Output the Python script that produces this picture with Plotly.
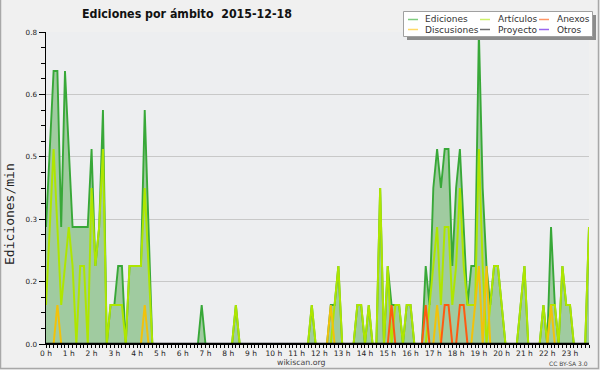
import plotly.graph_objects as go

# ---------------- data ----------------
TITLE = "Ediciones por ámbito\u00a0\u00a02015-12-18"
Y_TITLE = "Ediciones/min"
SOURCE = "wikiscan.org"
LICENSE = "CC BY-SA 3.0"

# 10-minute bins over the day (minutes since midnight)
MINUTES = list(range(0, 1440, 10))

HOUR_TICKS = [0, 60, 120, 180, 240, 300, 360, 420, 480, 540, 600, 660,
              720, 780, 840, 900, 960, 1020, 1080, 1140, 1200, 1260, 1320, 1380]
HOUR_LABELS = ["0 h", "1 h", "2 h", "3 h", "4 h", "5 h", "6 h", "7 h", "8 h", "9 h",
               "10 h", "11 h", "12 h", "13 h", "14 h", "15 h", "16 h", "17 h", "18 h",
               "19 h", "20 h", "21 h", "22 h", "23 h"]

Y_TICKS = [0, 0.16, 0.32, 0.48, 0.64, 0.8]
Y_LABELS = ["0.0", "0.2", "0.3", "0.5", "0.6", "0.8"]

EDICIONES = [
    0.3, 0.5, 0.7, 0.7, 0.3, 0.7, 0.5, 0.3, 0.3, 0.3, 0.3, 0.3,
    0.5, 0.2, 0.3, 0.6, 0, 0.1, 0.1, 0.2, 0.2, 0, 0.2, 0.2,
    0.2, 0.2, 0.6, 0.3, 0, 0, 0, 0, 0, 0, 0, 0,
    0, 0, 0, 0, 0, 0.1, 0, 0, 0, 0, 0, 0,
    0, 0, 0.1, 0, 0, 0, 0, 0, 0, 0, 0, 0,
    0, 0, 0, 0, 0, 0, 0, 0, 0, 0, 0.1, 0,
    0, 0, 0, 0.1, 0.1, 0.2, 0, 0, 0, 0, 0.1, 0.1,
    0, 0.1, 0, 0, 0.4, 0, 0.2, 0.1, 0.1, 0.1, 0, 0.1,
    0.1, 0, 0, 0, 0.2, 0.1, 0.4, 0.5, 0.4, 0.5, 0.5, 0.2,
    0.4, 0.5, 0.3, 0.1, 0.2, 0.2, 0.8, 0.4, 0.2, 0.1, 0.2, 0.2,
    0.1, 0, 0, 0, 0, 0.1, 0.2, 0, 0, 0, 0, 0.1,
    0, 0.3, 0.1, 0, 0.2, 0.1, 0.1, 0, 0, 0, 0, 0.3,
]
ARTICULOS = [
    0.1, 0.3, 0.5, 0.3, 0.1, 0.2, 0.3, 0.2, 0, 0.2, 0.2, 0,
    0.4, 0.2, 0.3, 0.5, 0, 0.1, 0.1, 0.1, 0.1, 0, 0.2, 0.2,
    0.2, 0.2, 0.4, 0.2, 0, 0, 0, 0, 0, 0, 0, 0,
    0, 0, 0, 0, 0, 0, 0, 0, 0, 0, 0, 0,
    0, 0, 0.1, 0, 0, 0, 0, 0, 0, 0, 0, 0,
    0, 0, 0, 0, 0, 0, 0, 0, 0, 0, 0.1, 0,
    0, 0, 0, 0, 0.1, 0.2, 0, 0, 0, 0, 0.1, 0.1,
    0, 0.1, 0, 0, 0.4, 0, 0.2, 0, 0.1, 0.1, 0, 0.1,
    0.1, 0, 0, 0, 0, 0.1, 0.2, 0.3, 0.1, 0.3, 0.3, 0.1,
    0.2, 0.4, 0.2, 0.1, 0.1, 0.1, 0.5, 0.2, 0, 0.1, 0.2, 0.2,
    0.1, 0, 0, 0, 0, 0.1, 0.2, 0, 0, 0, 0, 0.1,
    0, 0.1, 0.1, 0, 0.2, 0.1, 0.1, 0, 0, 0, 0, 0.3,
]
ANEXOS = [
    0, 0, 0, 0, 0, 0, 0, 0, 0, 0, 0, 0,
    0, 0, 0, 0, 0, 0, 0, 0, 0, 0, 0, 0,
    0, 0, 0, 0, 0, 0, 0, 0, 0, 0, 0, 0,
    0, 0, 0, 0, 0, 0, 0, 0, 0, 0, 0, 0,
    0, 0, 0, 0, 0, 0, 0, 0, 0, 0, 0, 0,
    0, 0, 0, 0, 0, 0, 0, 0, 0, 0, 0, 0,
    0, 0, 0, 0, 0, 0, 0, 0, 0, 0, 0, 0,
    0, 0, 0, 0, 0, 0, 0, 0.1, 0, 0, 0, 0,
    0, 0, 0, 0, 0.1, 0, 0, 0, 0, 0.1, 0.1, 0,
    0, 0.1, 0.1, 0, 0, 0, 0, 0, 0, 0, 0, 0,
    0, 0, 0, 0, 0, 0, 0, 0, 0, 0, 0, 0,
    0, 0, 0, 0, 0, 0, 0, 0, 0, 0, 0, 0,
]
DISCUSIONES = [
    0, 0, 0, 0.1, 0, 0, 0, 0, 0, 0, 0, 0,
    0, 0, 0, 0, 0, 0, 0, 0, 0, 0, 0, 0,
    0, 0, 0.1, 0, 0, 0, 0, 0, 0, 0, 0, 0,
    0, 0, 0, 0, 0, 0, 0, 0, 0, 0, 0, 0,
    0, 0, 0, 0, 0, 0, 0, 0, 0, 0, 0, 0,
    0, 0, 0, 0, 0, 0, 0, 0, 0, 0, 0, 0,
    0, 0, 0, 0.1, 0, 0, 0, 0, 0, 0, 0, 0,
    0, 0, 0, 0, 0, 0, 0, 0, 0, 0, 0, 0,
    0, 0, 0, 0, 0, 0, 0, 0.1, 0, 0, 0, 0,
    0, 0, 0, 0, 0, 0.1, 0.2, 0, 0.2, 0, 0, 0,
    0, 0, 0, 0, 0, 0, 0, 0, 0, 0, 0, 0,
    0, 0.1, 0, 0, 0, 0, 0, 0, 0, 0, 0, 0,
]
PROYECTO = [
    0, 0, 0, 0, 0, 0, 0, 0, 0, 0, 0, 0,
    0, 0, 0, 0, 0, 0, 0, 0, 0, 0, 0, 0,
    0, 0, 0, 0, 0, 0, 0, 0, 0, 0, 0, 0,
    0, 0, 0, 0, 0, 0, 0, 0, 0, 0, 0, 0,
    0, 0, 0, 0, 0, 0, 0, 0, 0, 0, 0, 0,
    0, 0, 0, 0, 0, 0, 0, 0, 0, 0, 0, 0,
    0, 0, 0, 0, 0, 0, 0, 0, 0, 0, 0, 0,
    0, 0, 0, 0, 0, 0, 0, 0, 0, 0, 0, 0,
    0, 0, 0, 0, 0, 0, 0, 0, 0, 0, 0, 0,
    0, 0, 0, 0, 0, 0, 0, 0, 0, 0, 0, 0,
    0, 0, 0, 0, 0, 0, 0, 0, 0, 0, 0, 0,
    0, 0, 0, 0, 0, 0, 0, 0, 0, 0, 0, 0,
]
OTROS = [
    0, 0, 0, 0, 0, 0, 0, 0, 0, 0, 0, 0,
    0, 0, 0, 0, 0, 0, 0, 0, 0, 0, 0, 0,
    0, 0, 0, 0, 0, 0, 0, 0, 0, 0, 0, 0,
    0, 0, 0, 0, 0, 0, 0, 0, 0, 0, 0, 0,
    0, 0, 0, 0, 0, 0, 0, 0, 0, 0, 0, 0,
    0, 0, 0, 0, 0, 0, 0, 0, 0, 0, 0, 0,
    0, 0, 0, 0, 0, 0, 0, 0, 0, 0, 0, 0,
    0, 0, 0, 0, 0, 0, 0, 0, 0, 0, 0, 0,
    0, 0, 0, 0, 0, 0, 0, 0, 0, 0, 0, 0,
    0, 0, 0, 0, 0, 0, 0, 0, 0, 0, 0, 0,
    0, 0, 0, 0, 0, 0, 0, 0, 0, 0, 0, 0,
    0, 0, 0, 0, 0, 0, 0, 0, 0, 0, 0, 0,
]

# ---------------- styling ----------------
W, H = 600, 370
L, R, T, B = 46, 11, 32, 26
PW, PH = W - L - R, H - T - B

def px(x):  # figure pixel -> paper x
    return (x - L) / PW

def py(y):  # figure pixel -> paper y
    return (H - B - y) / PH

BASE_FONT = "DejaVu Sans, Verdana, sans-serif"

# name, values, line colour, legend sample colour, legend column, legend row
SERIES = [
    ("Ediciones", EDICIONES, "#38a838", "#7fcc7f", 0, 0),
    ("Artículos", ARTICULOS, "#aee600", "#cdf06a", 1, 0),
    ("Discusiones", DISCUSIONES, "#f2c20a", "#ffd966", 0, 1),
    ("Anexos", ANEXOS, "#ff5a10", "#ff9666", 2, 0),
    ("Proyecto", PROYECTO, "#555555", "#6e6e6e", 1, 1),
    ("Otros", OTROS, "#8040e0", "#9966ee", 2, 1),
]
DRAW_ORDER = ["Proyecto", "Otros", "Ediciones", "Artículos", "Discusiones", "Anexos"]

fig = go.Figure()
by_name = {s[0]: s for s in SERIES}
for name in DRAW_ORDER:
    _, vals, col, _, _, _ = by_name[name]
    if name == "Ediciones":
        fig.add_trace(go.Scatter(
            x=MINUTES, y=vals, name=name, mode="lines",
            line=dict(color=col, width=1.9),
            fill="tozeroy", fillcolor="#a0cba0", showlegend=False,
        ))
    else:
        fig.add_trace(go.Scatter(
            x=MINUTES, y=vals, name=name, mode="lines",
            line=dict(color=col, width=2.0), showlegend=False,
        ))

shapes = []
annotations = []

# cover the zero-valued stretches so the baseline stays black (part of the axis line)
shapes.append(dict(type="line", xref="paper", yref="y", x0=0, x1=1, y0=0, y1=0,
                   line=dict(color="#000000", width=2.4), layer="above"))

# whole-image frame
shapes.append(dict(type="rect", xref="paper", yref="paper",
                   x0=px(0.5), x1=px(598.5), y0=py(368.5), y1=py(-3),
                   line=dict(color="#a8a8a8", width=1.5), fillcolor="rgba(0,0,0,0)", layer="below"))

# legend box (with shadow)
LEG_X0, LEG_X1, LEG_Y0, LEG_Y1 = 403.5, 592.5, 11.5, 36.5
shapes.append(dict(type="rect", xref="paper", yref="paper",
                   x0=px(LEG_X0 + 3.5), x1=px(LEG_X1 + 3.5), y0=py(LEG_Y1 + 3.5), y1=py(LEG_Y0 + 3.5),
                   line=dict(width=0), fillcolor="#8c8c8c", layer="above"))
shapes.append(dict(type="rect", xref="paper", yref="paper",
                   x0=px(LEG_X0), x1=px(LEG_X1), y0=py(LEG_Y1), y1=py(LEG_Y0),
                   line=dict(color="#a0a0a0", width=1), fillcolor="#ffffff", layer="above"))
COL_X = [408, 480, 539]
ROW_Y = [19.5, 29.5]
for name, _, _, lcol, c, r in SERIES:
    x0 = COL_X[c]
    y0 = ROW_Y[r]
    shapes.append(dict(type="line", xref="paper", yref="paper",
                       x0=px(x0), x1=px(x0 + 10), y0=py(y0), y1=py(y0),
                       line=dict(color=lcol, width=1.5), layer="above"))
    annotations.append(dict(text=name, xref="paper", yref="paper",
                            x=px(x0 + 15.5), y=py(y0), xanchor="left", yanchor="middle",
                            showarrow=False, font=dict(family=BASE_FONT, size=9, color="#333333")))

annotations.append(dict(text=Y_TITLE, xref="paper", yref="paper", x=px(10), y=py(214),
                        textangle=-90, xanchor="center", yanchor="middle", showarrow=False,
                        font=dict(family="DejaVu Sans Mono, monospace", size=13, color="#222222")))
annotations.append(dict(text=SOURCE, xref="paper", yref="paper", x=px(301), y=py(362.5),
                        xanchor="center", yanchor="middle", showarrow=False,
                        font=dict(family=BASE_FONT, size=7.8, color="#444444")))
annotations.append(dict(text=LICENSE, xref="paper", yref="paper", x=px(590), y=py(363.5),
                        xanchor="right", yanchor="middle", showarrow=False,
                        font=dict(family=BASE_FONT, size=6, color="#444444")))

fig.update_layout(
    width=W, height=H,
    margin=dict(l=L, r=R, t=T, b=B, pad=0, autoexpand=False),
    paper_bgcolor="#f0f0f0",
    plot_bgcolor="#edeef0",
    title=dict(text=TITLE, x=187 / W, xanchor="center", y=1 - 14 / H, yanchor="middle",
               font=dict(family="DejaVu Sans Condensed, DejaVu Sans, sans-serif", size=12.3,
                         weight="bold", color="#111111")),
    showlegend=False,
    hovermode=False,
    shapes=shapes,
    annotations=annotations,
    xaxis=dict(
        range=[0, 1430], tickmode="array", tickvals=HOUR_TICKS, ticktext=HOUR_LABELS,
        ticks="outside", ticklen=3, tickwidth=1, tickcolor="#000000",
        minor=dict(dtick=10, tick0=0, ticks="outside", ticklen=3, tickwidth=1, tickcolor="#000000"),
        showline=True, linecolor="#000000", linewidth=1, showgrid=False, zeroline=False,
        tickfont=dict(family=BASE_FONT, size=7.5, color="#222222"), ticklabelstandoff=-1,
        automargin=False,
    ),
    yaxis=dict(
        range=[0, 0.8], tickmode="array", tickvals=Y_TICKS, ticktext=Y_LABELS,
        ticks="outside", ticklen=6, tickwidth=1, tickcolor="#000000",
        minor=dict(dtick=0.04, tick0=0, ticks="outside", ticklen=4, tickwidth=1, tickcolor="#000000",
                   showgrid=False),
        showline=True, linecolor="#000000", linewidth=1.5,
        showgrid=True, gridcolor="#c8c8c8", gridwidth=1, zeroline=False,
        tickfont=dict(family=BASE_FONT, size=7.2, color="#222222"),
        automargin=False,
    ),
)

fig.write_html(
    "out.html",
    config={"displayModeBar": False, "staticPlot": True},
    post_script="document.body.style.margin='0';document.body.style.padding='0';"
                "document.documentElement.style.overflow='hidden';",
)
